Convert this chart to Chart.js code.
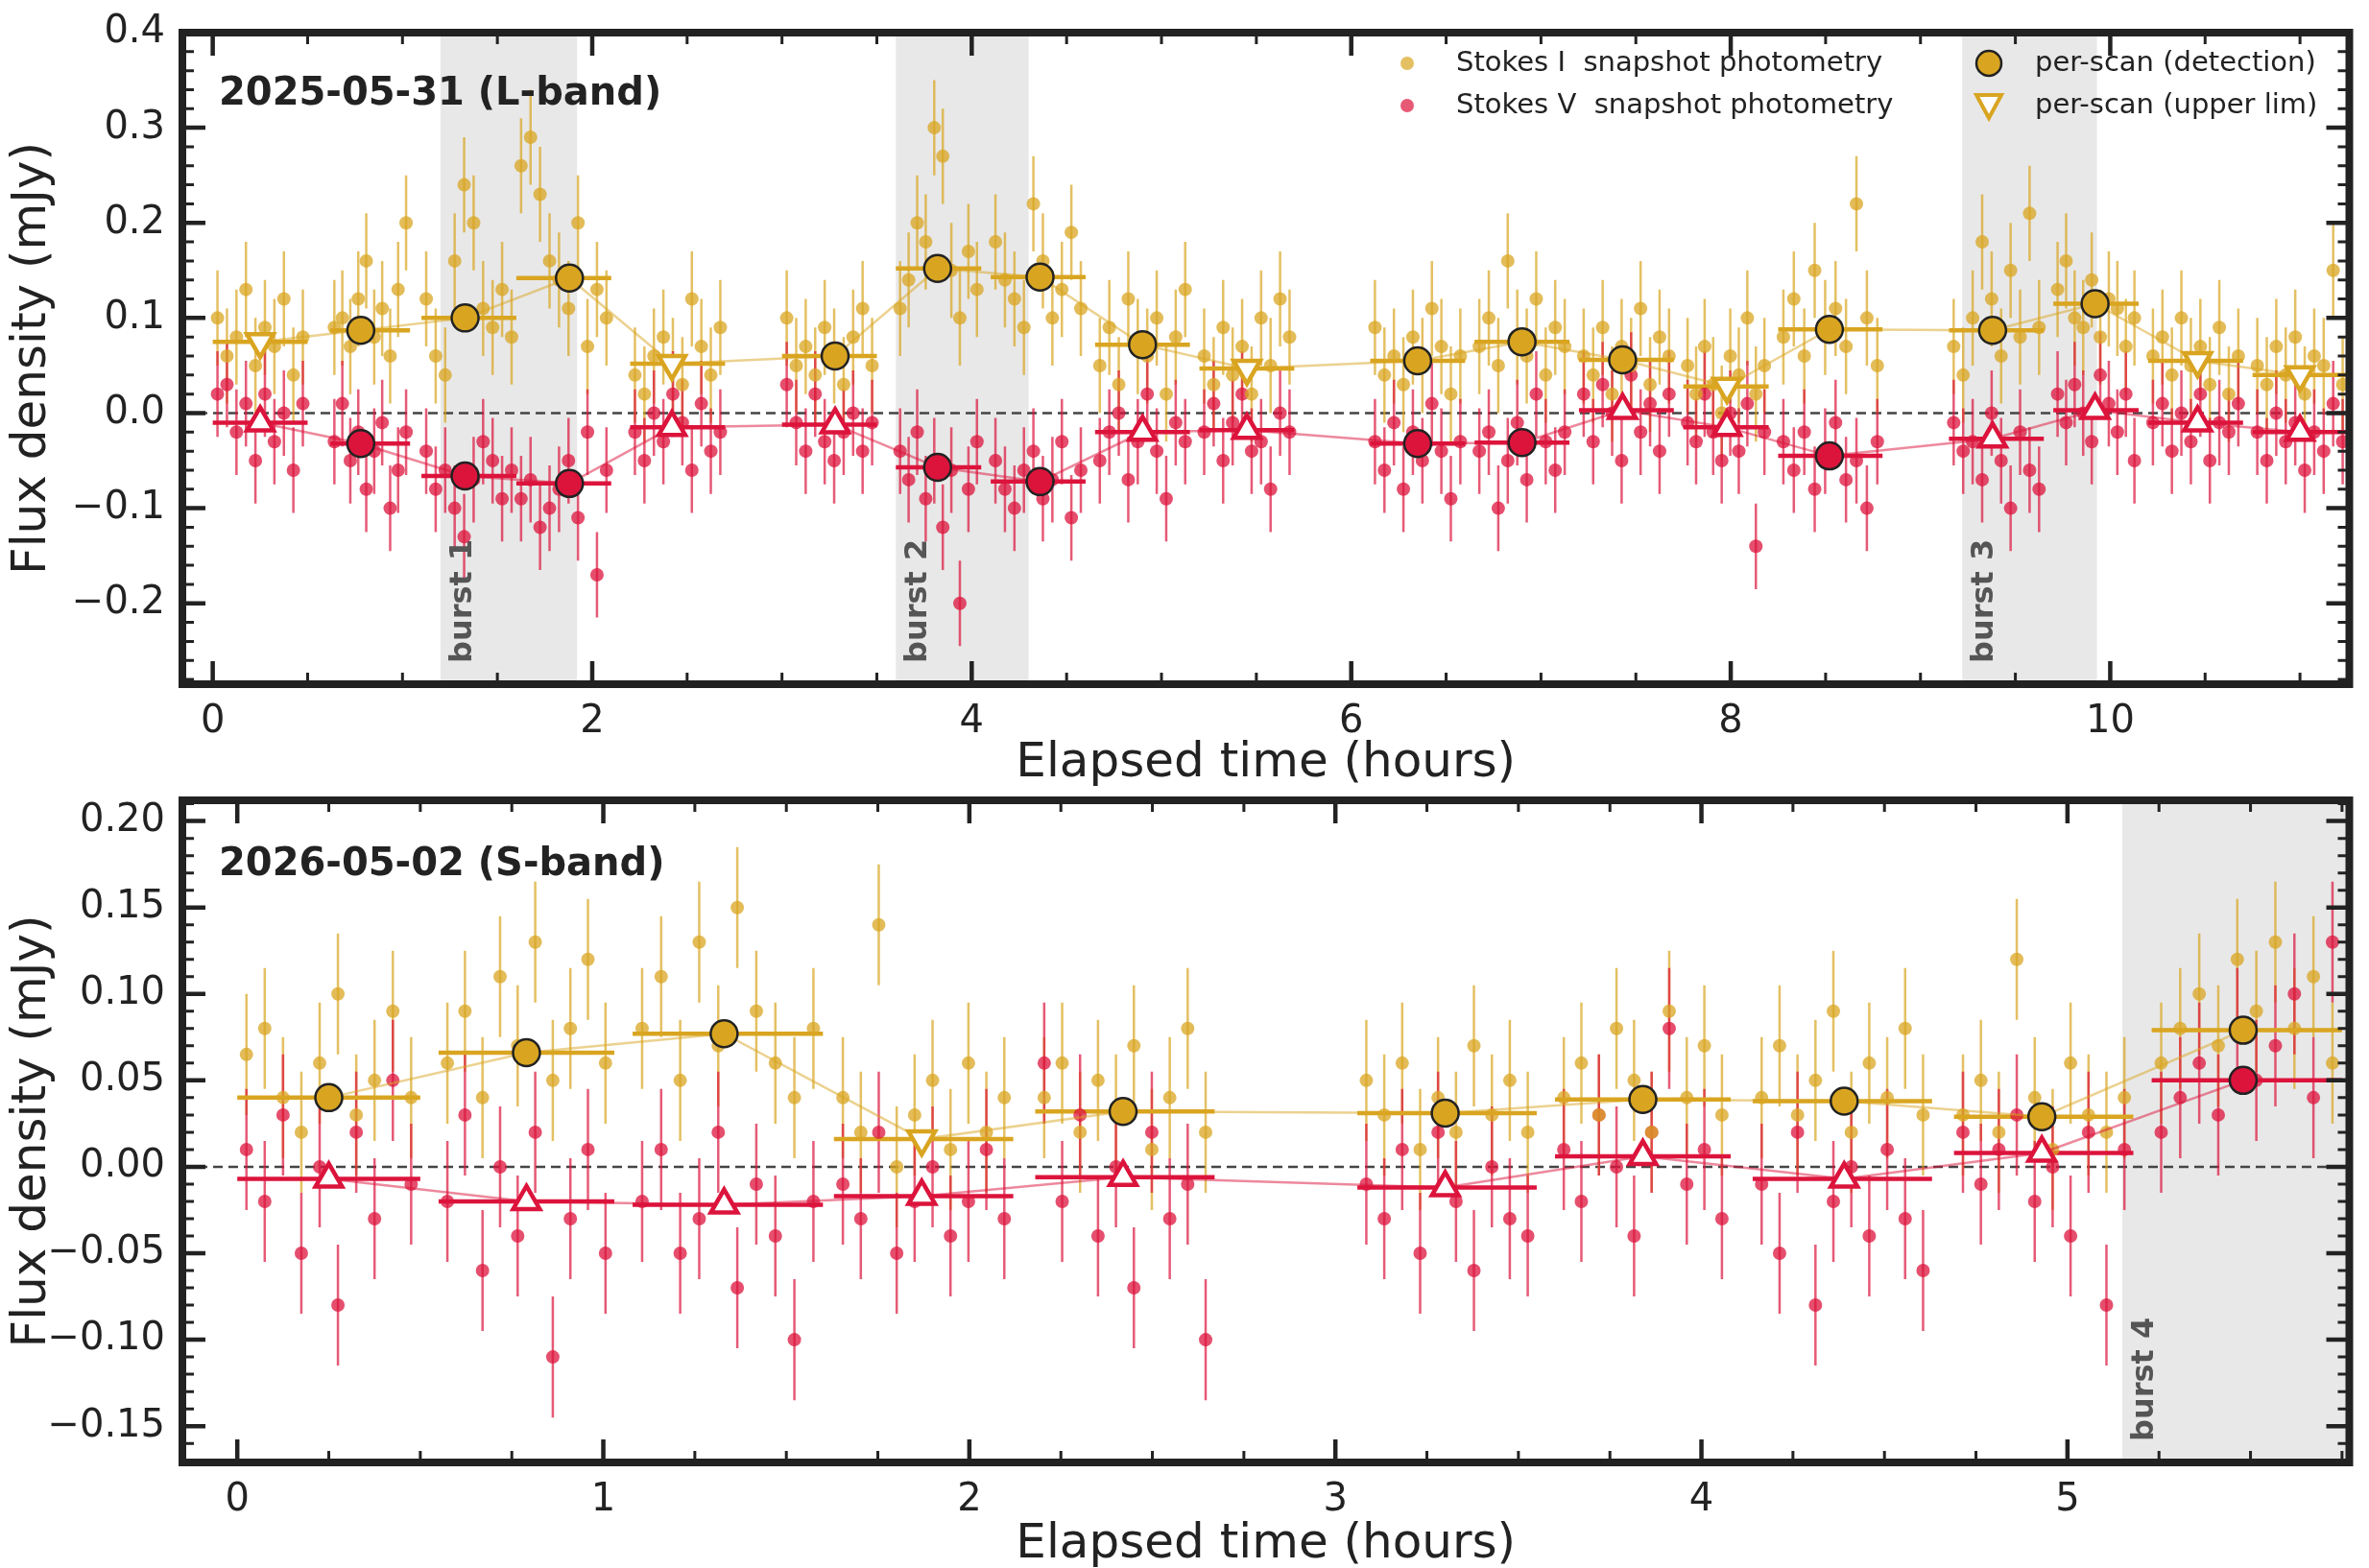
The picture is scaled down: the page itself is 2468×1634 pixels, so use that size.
<!DOCTYPE html>
<html>
<head>
<meta charset="utf-8">
<script src="https://cdn.jsdelivr.net/npm/chart.js@4.4.1/dist/chart.umd.min.js"></script>
<style>
body{margin:0;background:#fff;overflow:hidden;}
</style>
</head>
<body>
<div id="w1" style="position:absolute;left:0;top:0;width:2468px;height:830px"><canvas id="c1"></canvas></div>
<div id="w2" style="position:absolute;left:0;top:800px;width:2468px;height:844px"><canvas id="c2"></canvas></div>
<script>
var GOLD = '#D9A521', RED = '#DC143C';

// ---- L-band (2025-05-31) ----
var scanStartL = [0.0,0.62,1.1,1.6,2.2,3.0,3.6,4.1,4.65,5.2,6.1,6.65,7.2,7.75,8.25,9.15,9.7,10.2,10.75];
var scanEndL   = [0.5,1.04,1.6,2.1,2.7,3.5,4.05,4.6,5.15,5.7,6.6,7.15,7.7,8.2,8.8,9.65,10.15,10.7,11.25];
var scanMidL   = [0.25,0.78,1.33,1.88,2.42,3.28,3.82,4.36,4.9,5.45,6.35,6.9,7.43,7.98,8.52,9.38,9.92,10.46,11.0];
var scanIL     = [0.075,0.087,0.1,0.142,0.052,0.06,0.152,0.143,0.072,0.047,0.055,0.075,0.056,0.028,0.088,0.087,0.115,0.055,0.04];
var scanIdetL  = [0,1,1,1,0,1,1,1,1,0,1,1,1,0,1,1,1,0,0];
var scanVL     = [-0.01,-0.032,-0.066,-0.074,-0.015,-0.012,-0.057,-0.072,-0.02,-0.018,-0.032,-0.031,0.003,-0.015,-0.045,-0.027,0.003,-0.01,-0.02];
var scanVdetL  = [0,1,1,1,0,0,1,1,0,0,1,1,0,0,1,0,0,0,0];
var snapIL = [
 [0.10,0.06,0.08,0.13,0.05,0.09,0.07,0.12,0.04,0.08],
 [0.09,0.10,0.07,0.12,0.16,0.08,0.11,0.06,0.13,0.20],
 [0.12,0.06,0.04,0.16,0.24,0.20,0.11,0.09,0.13,0.08],
 [0.26,0.29,0.23,0.16,0.14,0.11,0.20,0.07,0.13,0.10],
 [0.04,0.02,0.06,0.08,0.05,0.03,0.12,0.07,0.04,0.09],
 [0.10,0.05,0.07,0.04,0.09,0.06,0.03,0.08,0.11,0.05],
 [0.11,0.14,0.20,0.18,0.30,0.27,0.15,0.10,0.17,0.13],
 [0.18,0.14,0.12,0.09,0.22,0.16,0.10,0.13,0.19,0.11],
 [0.05,0.09,0.03,0.12,0.07,0.06,0.10,0.02,0.08,0.13],
 [0.06,0.03,0.09,0.04,0.07,0.02,0.10,0.05,0.12,0.08],
 [0.09,0.04,0.06,0.03,0.08,0.05,0.11,0.07,0.02,0.06],
 [0.07,0.10,0.05,0.16,0.08,0.06,0.12,0.04,0.09,0.07],
 [0.06,0.04,0.09,0.02,0.07,0.05,0.11,0.03,0.08,0.06],
 [0.05,0.02,0.07,0.03,0.00,0.06,0.04,0.10,0.02,0.05],
 [0.08,0.12,0.06,0.15,0.09,0.11,0.07,0.22,0.10,0.05],
 [0.07,0.04,0.10,0.18,0.12,0.06,0.15,0.08,0.21,0.09],
 [0.13,0.16,0.10,0.09,0.14,0.08,0.12,0.11,0.07,0.10],
 [0.06,0.08,0.04,0.10,0.05,0.07,0.03,0.09,0.02,0.06],
 [0.05,0.03,0.07,0.04,0.08,0.02,0.06,0.05,0.15,0.03]];
var snapVL = [
 [0.02,0.03,-0.02,0.01,-0.05,0.02,-0.03,0.00,-0.06,0.01],
 [-0.03,0.01,-0.05,-0.02,-0.08,-0.04,-0.01,-0.10,-0.06,-0.02],
 [-0.04,-0.08,-0.06,-0.10,-0.13,-0.07,-0.03,-0.05,-0.09,-0.06],
 [-0.09,-0.07,-0.12,-0.10,-0.08,-0.05,-0.11,-0.02,-0.17,-0.06],
 [-0.02,-0.05,0.00,-0.03,0.02,-0.01,-0.06,0.01,-0.04,-0.02],
 [0.03,-0.01,-0.04,0.02,-0.03,-0.05,-0.02,0.00,-0.04,-0.01],
 [-0.04,-0.07,-0.02,-0.09,-0.05,-0.12,-0.06,-0.20,-0.08,-0.03],
 [-0.05,-0.08,-0.10,-0.06,-0.04,-0.09,-0.07,-0.03,-0.11,-0.06],
 [-0.05,-0.02,0.00,-0.07,-0.03,0.02,-0.04,-0.09,-0.01,-0.03],
 [-0.02,0.01,-0.05,-0.01,0.02,-0.04,-0.03,-0.08,0.00,-0.02],
 [-0.03,-0.06,-0.01,-0.08,-0.02,-0.05,0.01,-0.04,-0.09,-0.03],
 [-0.04,-0.02,-0.10,-0.05,-0.01,-0.07,0.02,-0.03,-0.06,-0.02],
 [0.02,-0.03,0.03,0.00,-0.05,0.04,-0.02,0.01,-0.04,0.02],
 [-0.01,-0.03,0.02,-0.02,-0.05,0.00,-0.04,0.01,-0.14,-0.02],
 [-0.03,-0.06,-0.02,-0.08,-0.04,-0.01,-0.07,-0.05,-0.10,-0.03],
 [-0.01,-0.04,-0.03,-0.07,0.00,-0.05,-0.10,-0.02,-0.06,-0.08],
 [0.02,-0.01,0.03,0.00,-0.03,0.04,0.01,-0.02,0.02,-0.05],
 [-0.01,0.01,-0.04,0.00,-0.03,0.02,-0.05,-0.01,-0.02,0.01],
 [-0.02,-0.05,0.00,-0.03,-0.01,-0.06,-0.02,-0.04,0.01,-0.03]];
var burstsL = [[1.2,1.92,'burst 1'],[3.6,4.3,'burst 2'],[9.22,9.93,'burst 3']];

// ---- S-band (2026-05-02) ----
var scanStartS = [0.0,0.55,1.08,1.63,2.18,3.06,3.6,4.14,4.69,5.23];
var scanEndS   = [0.5,1.03,1.6,2.12,2.67,3.55,4.08,4.63,5.18,5.75];
var scanMidS   = [0.25,0.79,1.33,1.87,2.42,3.3,3.84,4.39,4.93,5.48];
var scanIS     = [0.04,0.066,0.077,0.016,0.032,0.031,0.039,0.038,0.029,0.079];
var scanIdetS  = [1,1,1,0,1,1,1,1,1,1];
var scanVS     = [-0.007,-0.02,-0.022,-0.017,-0.006,-0.012,0.006,-0.007,0.008,0.05];
var scanVdetS  = [0,0,0,0,0,0,0,0,0,1];
var snapIS = [
 [0.065,0.08,0.04,0.02,0.06,0.10,0.03,0.05,0.09,0.04],
 [0.06,0.09,0.04,0.11,0.07,0.13,0.05,0.08,0.12,0.06],
 [0.08,0.11,0.05,0.13,0.07,0.15,0.09,0.06,0.04,0.08],
 [0.04,0.02,0.14,0.00,0.03,0.05,0.01,0.06,0.02,0.04],
 [0.04,0.06,0.02,0.05,0.03,0.07,0.01,0.04,0.08,0.02],
 [0.05,0.03,0.06,0.01,0.04,0.02,0.07,0.03,0.05,0.02],
 [0.04,0.06,0.03,0.08,0.05,0.02,0.09,0.04,0.07,0.03],
 [0.04,0.07,0.03,0.05,0.09,0.02,0.06,0.04,0.08,0.03],
 [0.03,0.05,0.02,0.12,0.04,0.01,0.06,0.03,0.02,0.04],
 [0.06,0.08,0.10,0.07,0.12,0.09,0.13,0.08,0.11,0.06]];
var snapVS = [
 [0.01,-0.02,0.03,-0.05,0.00,-0.08,0.02,-0.03,0.05,-0.01],
 [-0.02,0.03,-0.06,0.00,-0.04,0.02,-0.11,-0.03,0.01,-0.05],
 [-0.02,0.01,-0.05,-0.03,0.02,-0.07,-0.01,-0.04,-0.10,-0.02],
 [-0.01,-0.03,0.02,-0.05,-0.02,0.00,-0.04,-0.02,0.01,-0.03],
 [0.06,-0.02,0.03,-0.04,0.00,-0.07,0.02,-0.03,-0.01,-0.10],
 [-0.01,-0.03,0.01,-0.05,0.02,-0.02,-0.06,0.00,-0.03,-0.04],
 [0.01,-0.02,0.03,0.00,-0.04,0.02,0.08,-0.01,0.01,-0.03],
 [-0.01,-0.05,0.02,-0.08,-0.02,0.00,-0.04,0.01,-0.03,-0.06],
 [0.02,-0.01,0.01,0.03,-0.02,0.00,-0.04,0.02,-0.08,0.01],
 [0.02,0.04,0.06,0.03,0.08,0.05,0.07,0.10,0.04,0.13]];
var burstsS = [[5.15,5.8,'burst 4']];

function snapPoints(starts, ends, vals, err){
  var pts = [];
  for (var s=0; s<vals.length; s++){
    var n = vals[s].length;
    for (var k=0; k<n; k++){
      var t = starts[s] + (ends[s]-starts[s]) * (k+0.5)/n;
      pts.push({x:t, y:vals[s][k], e:err});
    }
  }
  return pts;
}
function scanPoints(mids, starts, ends, vals, det, want){
  var pts = [];
  for (var i=0;i<mids.length;i++){
    if (want===null || det[i]===want) pts.push({x:mids[i], y:vals[i], x0:starts[i], x1:ends[i]});
  }
  return pts;
}
function fmtMinus(v, dec){ var s = Math.abs(v).toFixed(dec); return (v < -1e-9 ? '\u2212' : '') + s; }

var decor = {
  id:'decor',
  beforeDatasetsDraw: function(chart){
    var o = chart.options.plugins.decor, ctx = chart.ctx, a = chart.chartArea;
    var xs = chart.scales.x, ys = chart.scales.y;
    ctx.save();
    ctx.beginPath(); ctx.rect(a.left,a.top,a.width,a.height); ctx.clip();
    o.bursts.forEach(function(b){
      var x0 = xs.getPixelForValue(b[0]), x1 = xs.getPixelForValue(b[1]);
      ctx.fillStyle = '#e8e8e8'; ctx.fillRect(x0, a.top, x1-x0, a.height);
    });
    // zero line
    ctx.strokeStyle = '#444'; ctx.lineWidth = 2.5; ctx.setLineDash([10,6]);
    var y0 = ys.getPixelForValue(0);
    ctx.beginPath(); ctx.moveTo(a.left,y0); ctx.lineTo(a.right,y0); ctx.stroke();
    ctx.setLineDash([]);
    // error bars of snapshots
    chart.data.datasets.forEach(function(ds){
      if (!ds.errColor) return;
      ctx.strokeStyle = ds.errColor; ctx.lineWidth = 2.5;
      ds.data.forEach(function(p){
        var px = xs.getPixelForValue(p.x);
        ctx.beginPath(); ctx.moveTo(px, ys.getPixelForValue(p.y-p.e)); ctx.lineTo(px, ys.getPixelForValue(p.y+p.e)); ctx.stroke();
      });
    });
    // horizontal scan bars
    chart.data.datasets.forEach(function(ds){
      if (!ds.hbar) return;
      ctx.strokeStyle = ds.hbar; ctx.lineWidth = 4.5;
      ds.data.forEach(function(p){
        var py = ys.getPixelForValue(p.y);
        ctx.beginPath(); ctx.moveTo(xs.getPixelForValue(p.x0), py); ctx.lineTo(xs.getPixelForValue(p.x1), py); ctx.stroke();
        if (ds.vbar) {
          var px = xs.getPixelForValue(p.x);
          ctx.beginPath(); ctx.moveTo(px, ys.getPixelForValue(p.y-ds.vbar)); ctx.lineTo(px, ys.getPixelForValue(p.y+ds.vbar)); ctx.stroke();
        }
      });
    });
    // burst labels
    ctx.fillStyle = '#555'; ctx.font = 'bold 32px "DejaVu Sans"';
    o.bursts.forEach(function(b){
      var x0 = xs.getPixelForValue(b[0]);
      ctx.save(); ctx.translate(x0+32, a.bottom-22); ctx.rotate(-Math.PI/2);
      ctx.textAlign='left'; ctx.textBaseline='alphabetic'; ctx.fillText(b[2],0,0); ctx.restore();
    });
    ctx.restore();
  },
  afterDraw: function(chart){
    var o = chart.options.plugins.decor, ctx = chart.ctx, a = chart.chartArea;
    var xs = chart.scales.x, ys = chart.scales.y;
    ctx.save();
    ctx.strokeStyle = '#222';
    function ticks(scale, step, len, lw, horiz){
      var v0 = Math.ceil(scale.min/step - 1e-6)*step;
      ctx.lineWidth = lw;
      for (var v=v0; v<=scale.max+1e-9; v+=step){
        var p = scale.getPixelForValue(v);
        ctx.beginPath();
        if (horiz){ ctx.moveTo(p,a.bottom); ctx.lineTo(p,a.bottom-len); ctx.moveTo(p,a.top); ctx.lineTo(p,a.top+len); }
        else { ctx.moveTo(a.left,p); ctx.lineTo(a.left+len,p); ctx.moveTo(a.right,p); ctx.lineTo(a.right-len,p); }
        ctx.stroke();
      }
    }
    ticks(xs, o.xMinor, 12, 3, true); ticks(xs, o.xMajor, 24, 4.5, true);
    ticks(ys, o.yMinor, 12, 3, false); ticks(ys, o.yMajor, 24, 4.5, false);
    ctx.lineWidth = 8; ctx.strokeRect(a.left, a.top, a.width, a.height);
    // panel title
    ctx.fillStyle = '#222'; ctx.font = 'bold 40px "DejaVu Sans"'; ctx.textBaseline='middle'; ctx.textAlign='left';
    ctx.fillText(o.title, a.left+38, a.top+o.titleDy);
    if (o.legend){
      ctx.font = '29px "DejaVu Sans"';
      var yA = 66, yB = 110;
      ctx.globalAlpha = 0.7;
      ctx.fillStyle = GOLD; ctx.beginPath(); ctx.arc(1466,yA,7,0,7); ctx.fill();
      ctx.fillStyle = RED; ctx.beginPath(); ctx.arc(1466,yB,7,0,7); ctx.fill();
      ctx.globalAlpha = 1;
      ctx.fillStyle='#222';
      ctx.fillText('Stokes I  snapshot photometry', 1517, yA);
      ctx.fillText('Stokes V  snapshot photometry', 1517, yB);
      ctx.fillText('per-scan (detection)', 2120, yA);
      ctx.fillText('per-scan (upper lim)', 2120, yB);
      ctx.fillStyle = GOLD; ctx.strokeStyle='#222'; ctx.lineWidth=2.5;
      ctx.beginPath(); ctx.arc(2072,yA,13,0,7); ctx.fill(); ctx.stroke();
      ctx.strokeStyle = GOLD; ctx.lineWidth = 4; ctx.fillStyle='#fff';
      ctx.beginPath(); ctx.moveTo(2059,yB-11); ctx.lineTo(2085,yB-11); ctx.lineTo(2072,yB+13); ctx.closePath(); ctx.fill(); ctx.stroke();
    }
    ctx.restore();
  }
};

function makeChart(id, cfg){
  var ds = [];
  var det = function(vals, det, want){ return scanPoints(cfg.mid, cfg.start, cfg.end, vals, det, want); };
  ds.push({data:det(cfg.sI,cfg.dI,1), hbar:GOLD, vbar:cfg.vbar, backgroundColor:GOLD, borderColor:'#222', borderWidth:2.5, pointRadius:14, order:0});
  ds.push({data:det(cfg.sI,cfg.dI,0), hbar:GOLD, pointStyle:'triangle', rotation:180, backgroundColor:'#fff', borderColor:GOLD, borderWidth:4.5, pointRadius:16, order:0});
  ds.push({data:det(cfg.sV,cfg.dV,1), hbar:RED, vbar:cfg.vbar, backgroundColor:RED, borderColor:'#222', borderWidth:2.5, pointRadius:14, order:0});
  ds.push({data:det(cfg.sV,cfg.dV,0), hbar:RED, pointStyle:'triangle', rotation:0, backgroundColor:'#fff', borderColor:RED, borderWidth:4.5, pointRadius:16, order:0});
  ds.push({data:det(cfg.sI,cfg.dI,null), showLine:true, pointRadius:0, borderColor:'rgba(217,165,33,0.5)', borderWidth:2.5, order:1});
  ds.push({data:det(cfg.sV,cfg.dV,null), showLine:true, pointRadius:0, borderColor:'rgba(220,20,60,0.5)', borderWidth:2.5, order:1});
  ds.push({data:snapPoints(cfg.start,cfg.end,cfg.nI,cfg.eI), errColor:'rgba(217,165,33,0.7)', backgroundColor:'rgba(217,165,33,0.75)', borderWidth:0, pointRadius:7, order:2});
  ds.push({data:snapPoints(cfg.start,cfg.end,cfg.nV,cfg.eV), errColor:'rgba(220,20,60,0.7)', backgroundColor:'rgba(220,20,60,0.75)', borderWidth:0, pointRadius:7, order:2});
  return new Chart(document.getElementById(id), {
    type:'scatter',
    data:{datasets:ds},
    options:{
      responsive:true, maintainAspectRatio:false, animation:false,
      layout:{padding:{top:cfg.padTop, right:20, left:0, bottom:0}},
      plugins:{legend:{display:false}, tooltip:{enabled:false},
        decor:{bursts:cfg.bursts, title:cfg.title, titleDy:cfg.titleDy, legend:cfg.legend,
          xMajor:cfg.xMajor, xMinor:cfg.xMinor, yMajor:cfg.yMajor, yMinor:cfg.yMinor}},
      scales:{
        x:{type:'linear', min:cfg.xmin, max:cfg.xmax, grid:{display:false}, border:{display:false},
          afterFit:function(s){ s.height = cfg.xH; },
          afterBuildTicks:function(s){ var t=[]; for(var v=0; v<=cfg.xmax; v+=cfg.xMajor) t.push({value:v}); s.ticks=t; },
          ticks:{color:'#222', font:{size:40, family:'DejaVu Sans'}, padding:8, maxRotation:0, callback:function(v){ return String(v); }},
          title:{display:true, text:'Elapsed time (hours)', color:'#222', font:{size:50, family:'DejaVu Sans'}, padding:{top:6}}},
        y:{min:cfg.ymin, max:cfg.ymax, grid:{display:false}, border:{display:false},
          afterFit:function(s){ s.width = 190; },
          afterBuildTicks:function(s){ var t=[]; var v0=Math.ceil(cfg.ymin/cfg.yMajor-1e-6); for(var k=v0; k*cfg.yMajor<=cfg.ymax+1e-9; k++) t.push({value:+(k*cfg.yMajor).toFixed(4)}); s.ticks=t; },
          ticks:{color:'#222', font:{size:40, family:'DejaVu Sans'}, padding:10, callback:function(v){ return fmtMinus(v, cfg.dec); }},
          title:{display:true, text:'Flux density (mJy)', color:'#222', font:{size:50, family:'DejaVu Sans'}, padding:{bottom:6}}}
      }
    },
    plugins:[decor]
  });
}

makeChart('c1', {start:scanStartL, end:scanEndL, mid:scanMidL, sI:scanIL, dI:scanIdetL, sV:scanVL, dV:scanVdetL,
  nI:snapIL, nV:snapVL, eI:0.05, eV:0.045, vbar:0.012, bursts:burstsL, title:'2025-05-31 (L-band)', titleDy:65, legend:true,
  xmin:-0.16, xmax:11.26, ymin:-0.285, ymax:0.4, xMajor:2, xMinor:0.5, yMajor:0.1, yMinor:0.02, dec:1, padTop:22, xH:117});
makeChart('c2', {start:scanStartS, end:scanEndS, mid:scanMidS, sI:scanIS, dI:scanIdetS, sV:scanVS, dV:scanVdetS,
  nI:snapIS, nV:snapVS, eI:0.035, eV:0.035, vbar:0.006, bursts:burstsS, title:'2026-05-02 (S-band)', titleDy:68, legend:false,
  xmin:-0.15, xmax:5.77, ymin:-0.171, ymax:0.212, xMajor:1, xMinor:0.25, yMajor:0.05, yMinor:0.01, dec:2, padTop:30, xH:120});
</script>
</body>
</html>
